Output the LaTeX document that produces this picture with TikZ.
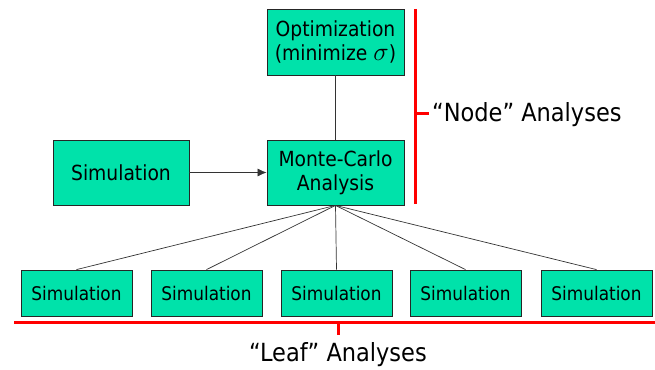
\documentclass[tikz,border=0pt]{standalone}
\usepackage{fontspec}
\setmainfont{DejaVu Sans Condensed}
\usetikzlibrary{arrows.meta}
\definecolor{boxgreen}{RGB}{0,226,170}
\definecolor{bracketred}{RGB}{255,0,0}
\tikzset{
  box/.style={draw=black!85, line width=0.8pt, fill=boxgreen, inner sep=0pt, align=center},
  bigbox/.style={box, minimum width=137pt, minimum height=65pt, font=\fontsize{20.8}{24}\selectfont},
  leafbox/.style={box, minimum width=111pt, minimum height=46pt, font=\fontsize{18.8}{21}\selectfont},
  link/.style={draw=black!80, line width=0.7pt},
  bracket/.style={draw=bracketred, line width=3pt},
  label/.style={font=\fontsize{25}{28}\selectfont, inner sep=0pt}
}
\begin{document}
\begin{tikzpicture}[x=1pt,y=-1pt]
\useasboundingbox (0,0) rectangle (655,369);
\node[bigbox, minimum height=66pt] (opt) at (335.5,42) {Optimization\\(minimize \scalebox{1.25}{$\sigma$})};
\node[bigbox] (mc) at (335.5,172.5) {Monte-Carlo\\Analysis};
\node[bigbox, minimum width=136pt] (sim) at (121,172.5) {Simulation};
\node[leafbox] (l1) at (76.5,293) {Simulation};
\node[leafbox] (l2) at (206.5,293) {Simulation};
\node[leafbox] (l3) at (336.5,293) {Simulation};
\node[leafbox] (l4) at (465.5,293) {Simulation};
\node[leafbox] (l5) at (596.5,293) {Simulation};
\draw[link] (opt) -- (mc);
\draw[link, -{Latex[length=9pt,width=8pt]}] (sim) -- (mc);
\foreach \n in {l1,l2,l3,l4,l5} \draw[link] (mc.south) -- (\n.north);
% node bracket
\coordinate (nt) at (415,9);
\coordinate (nb) at (415,204);
\coordinate (nm) at (415,113);
\coordinate (nk) at (429,113);
\draw[bracket] (nt) -- (nb);
\draw[bracket] (nm) -- (nk);
\node[label, anchor=west] (nodelab) at (432,115) {“Node” Analyses};
% leaf bracket
\coordinate (ll) at (14,322);
\coordinate (lr) at (655,322);
\coordinate (lm) at (338,322);
\coordinate (lk) at (338,335);
\draw[bracket] (ll) -- (lr);
\draw[bracket] (lm) -- (lk);
\node[label] (leaflab) at (338,355) {“Leaf” Analyses};
\end{tikzpicture}
\end{document}
